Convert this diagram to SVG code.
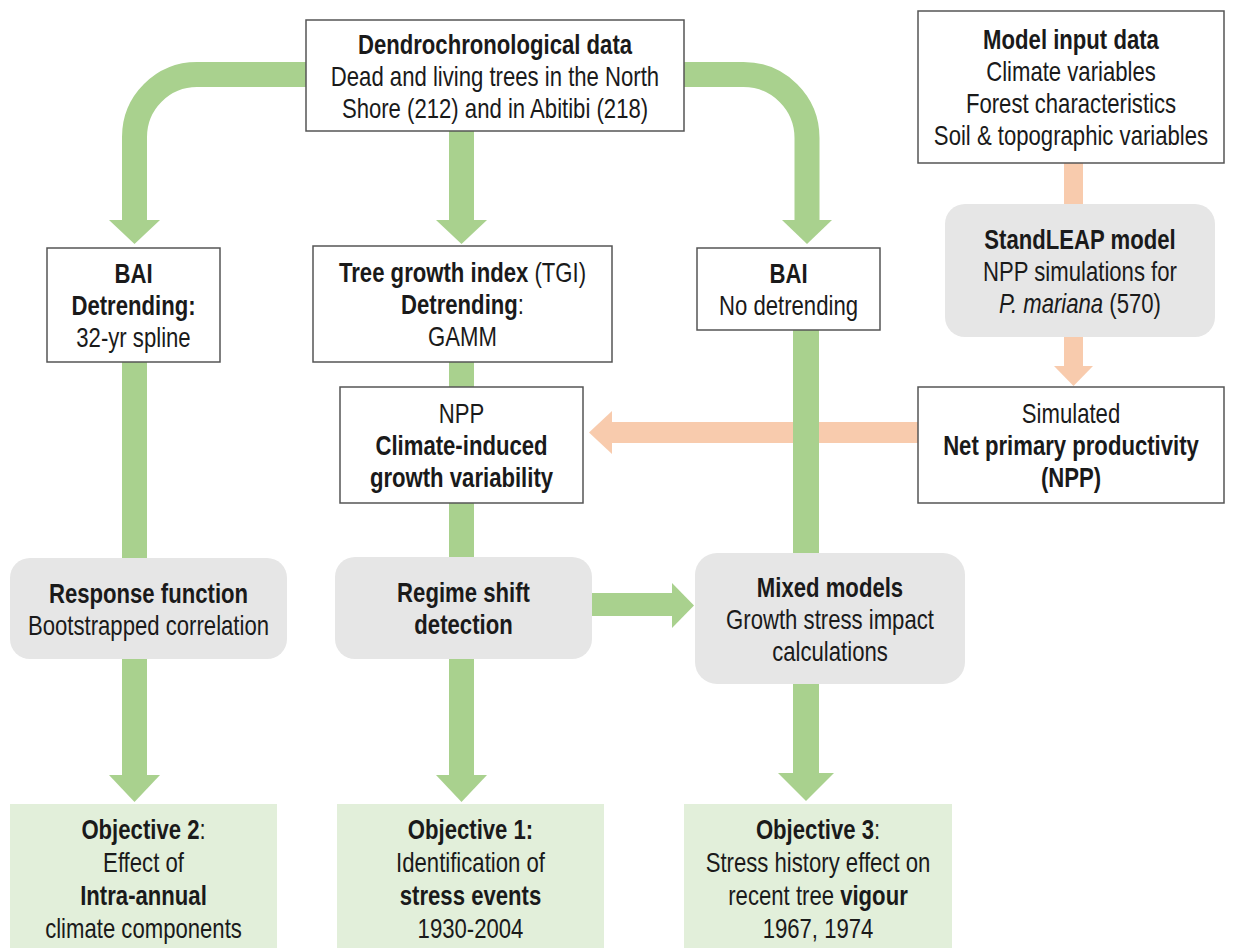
<svg xmlns="http://www.w3.org/2000/svg" width="1234" height="948" viewBox="0 0 1234 948">
<style>
text{font-family:"Liberation Sans Narrow","Liberation Sans",Arial,sans-serif;font-size:27px;fill:#1a1a1a;text-anchor:middle}
.b{font-weight:bold}
.i{font-style:italic}
.box{fill:#fff;stroke:#555;stroke-width:1.5}
.gray{fill:#e6e6e6}
.obj{fill:#e2efda}
.g{fill:#a9d18e}
.gs{fill:none;stroke:#a9d18e;stroke-width:25}
.o{fill:#f8cbad}
</style>
<rect width="1234" height="948" fill="#fff"/>
<g id="connectors">
  <rect class="o" x="1064" y="163" width="19" height="42"/>
  <rect class="o" x="1064" y="336" width="19" height="31"/>
  <polygon class="o" points="1054,366 1093,366 1073.5,386"/>
  <rect class="o" x="611" y="422" width="308" height="21"/>
  <polygon class="o" points="612,411 612,454 589,432.5"/>
  <path class="gs" d="M306,74.5 H197 A62.5,62.5 0 0 0 134.5,137 V221"/>
  <polygon class="g" points="109,220 160,220 134.5,244"/>
  <rect class="g" x="449" y="131" width="25" height="90"/>
  <polygon class="g" points="436,220 487,220 461.5,244"/>
  <path class="gs" d="M684,74.5 H743.5 A63.5,63.5 0 0 1 807,138 V221"/>
  <polygon class="g" points="782,220 832,220 807,244"/>
  <rect class="g" x="122" y="362" width="25" height="197"/>
  <rect class="g" x="122" y="658" width="25" height="118"/>
  <polygon class="g" points="109,775 160,775 134.5,802"/>
  <rect class="g" x="449" y="361" width="25" height="27"/>
  <rect class="g" x="449" y="502" width="25" height="56"/>
  <rect class="g" x="449" y="658" width="25" height="118"/>
  <polygon class="g" points="436,775 487,775 461.5,802"/>
  <rect class="g" x="793" y="330" width="26" height="224"/>
  <rect class="g" x="793" y="683" width="26" height="91"/>
  <polygon class="g" points="778,773 834,773 806,801"/>
  <rect class="g" x="591" y="593" width="82" height="23"/>
  <polygon class="g" points="672,583 672,628 694,605.5"/>
</g>
<g id="dendro">
  <rect class="box" x="306" y="20" width="378" height="111"/>
  <text transform="translate(495 53.5) scale(0.82 1)" class="b">Dendrochronological data</text>
  <text transform="translate(495 85.5) scale(0.82 1)">Dead and living trees in the North</text>
  <text transform="translate(495 117.5) scale(0.82 1)">Shore (212) and in Abitibi (218)</text>
</g>
<g id="model-input">
  <rect class="box" x="918" y="11" width="306" height="152"/>
  <text transform="translate(1071 49) scale(0.82 1)" class="b">Model input data</text>
  <text transform="translate(1071 81) scale(0.82 1)">Climate variables</text>
  <text transform="translate(1071 113) scale(0.82 1)">Forest characteristics</text>
  <text transform="translate(1071 145) scale(0.82 1)">Soil &amp; topographic variables</text>
</g>
<g id="standleap">
  <rect class="gray" x="945" y="204" width="270" height="133" rx="20"/>
  <text transform="translate(1080 248.5) scale(0.82 1)" class="b">StandLEAP model</text>
  <text transform="translate(1080 280.5) scale(0.82 1)">NPP simulations for</text>
  <text transform="translate(1080 312.5) scale(0.82 1)"><tspan class="i">P. mariana</tspan> (570)</text>
</g>
<g id="simulated-npp">
  <rect class="box" x="918" y="387" width="306" height="116"/>
  <text transform="translate(1071 423) scale(0.82 1)">Simulated</text>
  <text transform="translate(1071 455) scale(0.82 1)" class="b">Net primary productivity</text>
  <text transform="translate(1071 487) scale(0.82 1)" class="b">(NPP)</text>
</g>
<g id="bai-left">
  <rect class="box" x="47" y="248" width="173" height="114"/>
  <text transform="translate(133.5 283) scale(0.82 1)" class="b">BAI</text>
  <text transform="translate(133.5 315) scale(0.82 1)" class="b">Detrending:</text>
  <text transform="translate(133.5 347) scale(0.82 1)">32-yr spline</text>
</g>
<g id="tgi">
  <rect class="box" x="313" y="246" width="299" height="116"/>
  <text transform="translate(462.5 282) scale(0.82 1)"><tspan class="b">Tree growth index</tspan> (TGI)</text>
  <text transform="translate(462.5 314) scale(0.82 1)"><tspan class="b">Detrending</tspan>:</text>
  <text transform="translate(462.5 346) scale(0.82 1)">GAMM</text>
</g>
<g id="bai-right">
  <rect class="box" x="697" y="248" width="183" height="82"/>
  <text transform="translate(788.5 283) scale(0.82 1)" class="b">BAI</text>
  <text transform="translate(788.5 315) scale(0.82 1)">No detrending</text>
</g>
<g id="npp-climate">
  <rect class="box" x="340" y="387" width="243" height="116"/>
  <text transform="translate(461.5 423) scale(0.82 1)">NPP</text>
  <text transform="translate(461.5 455) scale(0.82 1)" class="b">Climate-induced</text>
  <text transform="translate(461.5 487) scale(0.82 1)" class="b">growth variability</text>
</g>
<g id="response">
  <rect class="gray" x="10" y="558" width="277" height="101" rx="20"/>
  <text transform="translate(148.5 602.5) scale(0.82 1)" class="b">Response function</text>
  <text transform="translate(148.5 634.5) scale(0.82 1)">Bootstrapped correlation</text>
</g>
<g id="regime">
  <rect class="gray" x="335" y="557" width="257" height="102" rx="20"/>
  <text transform="translate(463.5 602) scale(0.82 1)" class="b">Regime shift</text>
  <text transform="translate(463.5 634) scale(0.82 1)" class="b">detection</text>
</g>
<g id="mixed">
  <rect class="gray" x="695" y="553" width="270" height="131" rx="22"/>
  <text transform="translate(830 596.5) scale(0.82 1)" class="b">Mixed models</text>
  <text transform="translate(830 628.5) scale(0.82 1)">Growth stress impact</text>
  <text transform="translate(830 660.5) scale(0.82 1)">calculations</text>
</g>
<g id="objective2">
  <rect class="obj" x="10" y="804" width="267" height="144"/>
  <text transform="translate(143.5 839) scale(0.82 1)"><tspan class="b">Objective 2</tspan>:</text>
  <text transform="translate(143.5 872) scale(0.82 1)">Effect of</text>
  <text transform="translate(143.5 905) scale(0.82 1)" class="b">Intra-annual</text>
  <text transform="translate(143.5 938) scale(0.82 1)">climate components</text>
</g>
<g id="objective1">
  <rect class="obj" x="337" y="804" width="267" height="144"/>
  <text transform="translate(470.5 839) scale(0.82 1)" class="b">Objective 1:</text>
  <text transform="translate(470.5 872) scale(0.82 1)">Identification of</text>
  <text transform="translate(470.5 905) scale(0.82 1)" class="b">stress events</text>
  <text transform="translate(470.5 938) scale(0.82 1)">1930-2004</text>
</g>
<g id="objective3">
  <rect class="obj" x="684" y="804" width="268" height="144"/>
  <text transform="translate(818 839) scale(0.82 1)"><tspan class="b">Objective 3</tspan>:</text>
  <text transform="translate(818 872) scale(0.82 1)">Stress history effect on</text>
  <text transform="translate(818 905) scale(0.82 1)">recent tree <tspan class="b">vigour</tspan></text>
  <text transform="translate(818 938) scale(0.82 1)">1967, 1974</text>
</g>
</svg>
